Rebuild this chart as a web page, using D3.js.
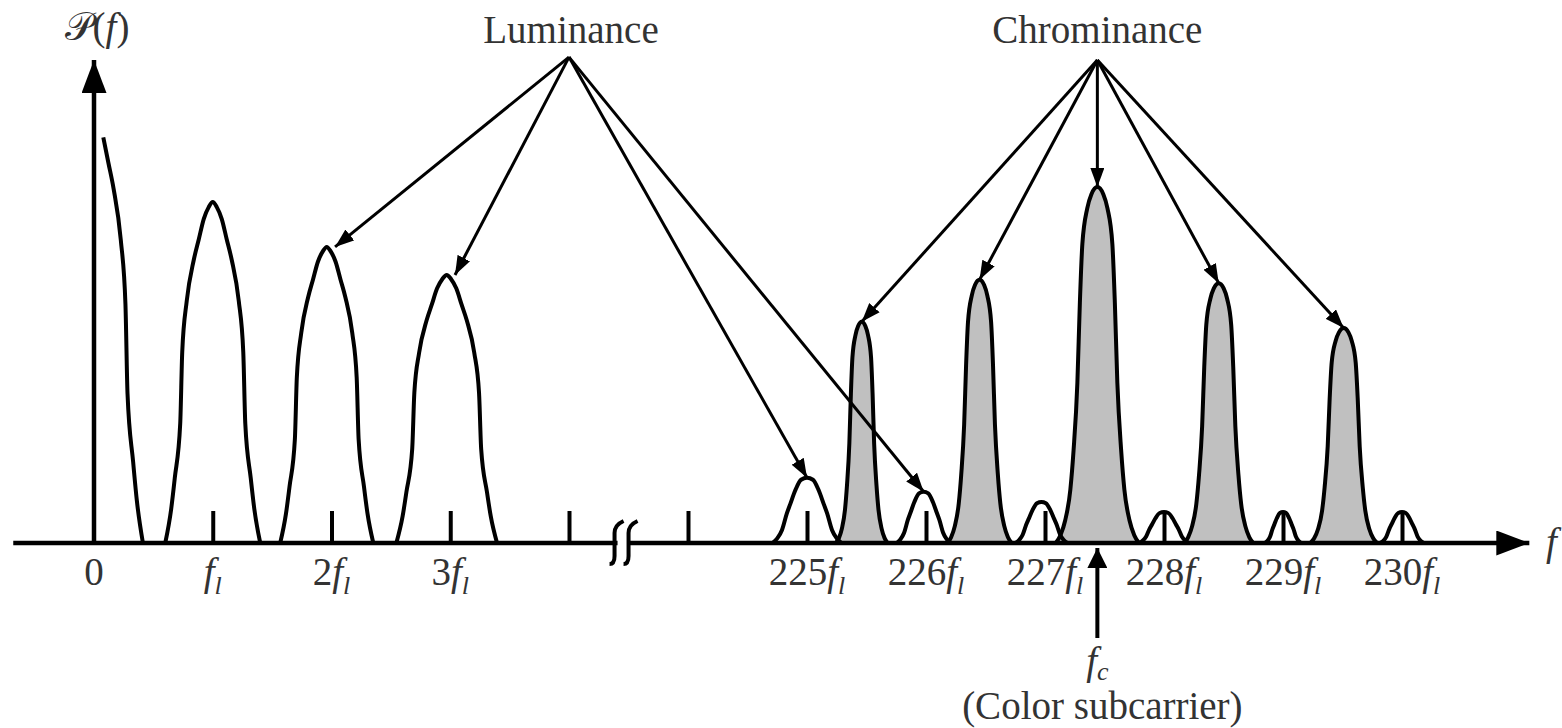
<!DOCTYPE html>
<html>
<head>
<meta charset="utf-8">
<script src="https://cdn.jsdelivr.net/npm/d3@7"></script>
<style>
  body { margin: 0; background: #fff; }
  svg { display: block; }
  text { font-family: "Liberation Serif", "Times New Roman", serif; fill: #333; font-size: 39px; }
</style>
</head>
<body>
<div class="chart"></div>
<script>
// DATA ------------------------------
// frequency in units of f_l, level in arbitrary units (0 - 100)

const lumaCenters = [0, 1, 1.96, 2.97, 225, 225.98, 226.97, 228, 229, 230];
const lumaHeights = [88.4, 70.6, 61.3, 55.5, 13.5, 10.6, 8.5, 6.4, 6.4, 6.4];
const lumaWidths  = [1.03, 1.0, 0.98, 1.06, 1.0, 0.78, 0.75, 0.72, 0.52, 0.63];

const chromaCenters = [225.46, 226.45, 227.44, 228.46, 229.51];
const chromaHeights = [45.8, 54.5, 73.7, 53.8, 44.5];
const chromaWidths  = [0.62, 0.77, 1.0, 0.83, 0.8];

// lobe outlines (right half): [offset in f_l, fraction of peak]
const bigLobeShape = [[0, 1], [0.034, 0.985], [0.076, 0.95], [0.118, 0.89], [0.16, 0.83],
    [0.219, 0.71], [0.257, 0.56], [0.274, 0.35], [0.32, 0.19], [0.35, 0.1], [0.4, 0]];
const smallLobeShape = [[0, 1], [0.05, 0.97], [0.1, 0.8], [0.14, 0.6], [0.17, 0.45],
    [0.21, 0.2], [0.25, 0.07], [0.29, 0]];
const chromaShape = [[0, 1], [0.05, 0.98], [0.085, 0.94], [0.126, 0.84], [0.147, 0.675],
    [0.168, 0.45], [0.2, 0.26], [0.227, 0.15], [0.27, 0.064], [0.31, 0.022], [0.35, 0]];

const tickValues  = [1, 2, 3, 4, 224, 225, 226, 227, 228, 229, 230];
const labelValues = [0, 1, 2, 3, 225, 226, 227, 228, 229, 230];
const tickLabels  = ["0", "f", "2f", "3f", "225f", "226f", "227f", "228f", "229f", "230f"]; // f gets subscript l

const lumaPointed = [2, 3, 4, 5];        // luminance lobes the labels point at
const lumaApex = [4, 100.6];             // [f, level]
const fc = 227.44;                       // color subcarrier
const chromaApex = [fc, 100];

// CHART INIT ------------------------------

const width = 1562, height = 728;

const svg = d3.select(".chart").append("svg")
    .attr("width", width)
    .attr("height", height);

// broken axis: 0..4 f_l, then 224..230 f_l
const x = d3.scaleLinear()
    .domain([0, 4, 224, 230])
    .range([94, 569, 688, 1402]);

const y = d3.scaleLinear()
    .domain([0, 100])
    .range([543, 60]);

const defs = svg.append("defs");
function marker(id, len, wid) {
    defs.append("marker")
        .attr("id", id)
        .attr("viewBox", `0 0 ${len} ${wid}`)
        .attr("refX", len).attr("refY", wid / 2)
        .attr("markerWidth", len).attr("markerHeight", wid)
        .attr("markerUnits", "userSpaceOnUse")
        .attr("orient", "auto")
        .append("path")
        .attr("d", `M0,0L${len},${wid / 2}L0,${wid}Z`)
        .attr("fill", "#000");
}
marker("head", 19, 14);
marker("axisHead", 33, 25);
marker("fcHead", 20, 20);

function lobe(c, h, w, shape) {
    const left = shape.slice(1).reverse().map(d => [c - d[0] * w, d[1] * h]);
    const right = shape.map(d => [c + d[0] * w, d[1] * h]);
    // the dc lobe only shows right of the vertical axis
    return left.concat(right).filter(d => d[0] >= 0.07);
}

const lumaLobes = lumaCenters.map((c, i) =>
    lobe(c, lumaHeights[i], lumaWidths[i], c < 100 ? bigLobeShape : smallLobeShape));
const chromaLobes = chromaCenters.map((c, i) =>
    lobe(c, chromaHeights[i], chromaWidths[i], chromaShape));

const line = d3.line()
    .x(d => x(d[0]))
    .y(d => y(d[1]))
    .curve(d3.curveMonotoneX);

const area = d3.area()
    .x(d => x(d[0]))
    .y0(y(0))
    .y1(d => y(d[1]))
    .curve(d3.curveMonotoneX);

// CHROMINANCE FILL ---------------------------
svg.selectAll(".chroma-fill")
    .data(chromaLobes)
    .enter().append("path")
    .attr("class", "chroma-fill")
    .attr("d", area)
    .attr("fill", "#c0c0c0");

// OUTLINES ---------------------------
svg.selectAll(".lobe")
    .data(lumaLobes.concat(chromaLobes))
    .enter().append("path")
    .attr("class", "lobe")
    .attr("d", line)
    .attr("fill", "none")
    .attr("stroke", "#000")
    .attr("stroke-width", 4)
    .attr("stroke-linejoin", "round");

// AXES ---------------------------
svg.append("line")
    .attr("x1", x(-0.68)).attr("y1", y(0))
    .attr("x2", x(231.07)).attr("y2", y(0))
    .attr("stroke", "#000").attr("stroke-width", 4.5)
    .attr("marker-end", "url(#axisHead)");

svg.append("line")
    .attr("x1", x(0)).attr("y1", y(0) + 2)
    .attr("x2", x(0)).attr("y2", y(100))
    .attr("stroke", "#000").attr("stroke-width", 4.5)
    .attr("marker-end", "url(#axisHead)");

var xAxis = svg.append("g")
    .attr("class", "axis x-axis")
    .attr("transform", "translate(0," + y(0) + ")")
    .call(d3.axisBottom(x).tickValues(tickValues).tickSize(-32).tickFormat(""));
xAxis.select(".domain").remove();
xAxis.selectAll(".tick line").attr("stroke", "#000").attr("stroke-width", 4);

// axis break
const bx = x(4) + 0.45 * (x(224) - x(4));
const y0 = y(0);
svg.append("rect")
    .attr("x", bx - 5).attr("y", y0 - 4)
    .attr("width", 10).attr("height", 8)
    .attr("fill", "#fff");
[bx - 8, bx + 6].forEach(sx => {
    svg.append("path")
        .attr("d", `M${sx - 5},${y0 + 21}Q${sx},${y0 + 21} ${sx},${y0 + 13}L${sx},${y0 - 10}Q${sx},${y0 - 18} ${sx + 9},${y0 - 22}`)
        .attr("fill", "none")
        .attr("stroke", "#000")
        .attr("stroke-width", 4);
});

// tick labels
svg.append("g").selectAll("text")
    .data(labelValues)
    .enter().append("text")
    .attr("x", d => x(d))
    .attr("y", y0 + 42)
    .attr("text-anchor", "middle")
    .each(function (d, i) {
        const t = d3.select(this), s = tickLabels[i];
        if (s.endsWith("f")) {
            t.append("tspan").text(s.slice(0, -1));
            t.append("tspan").attr("font-style", "italic").text("f");
            t.append("tspan").attr("font-style", "italic").attr("font-size", 26).attr("dy", 9).text("l");
        } else {
            t.text(s);
        }
    });

// axis titles
const yTitle = svg.append("text")
    .attr("x", x(0) + 3).attr("y", 40)
    .attr("text-anchor", "middle");
yTitle.append("tspan").text("\u{1D4AB}(");
yTitle.append("tspan").attr("font-style", "italic").text("f");
yTitle.append("tspan").text(")");

svg.append("text")
    .attr("x", x(231.07) + 22).attr("y", y0 + 12)
    .attr("text-anchor", "middle")
    .attr("font-style", "italic")
    .text("f");

// ANNOTATIONS ---------------------------
const lApex = [x(lumaApex[0]), y(lumaApex[1])];
const cApex = [x(chromaApex[0]), y(chromaApex[1])];

const targets = lumaPointed.map(i => {
    const off = lumaCenters[i] < 100 ? 0.07 : 0;
    return [lApex, [x(lumaCenters[i] + off), y(lumaHeights[i])]];
}).concat(chromaCenters.map((c, i) => [cApex, [x(c), y(chromaHeights[i])]]));

svg.selectAll(".pointer")
    .data(targets)
    .enter().append("line")
    .attr("class", "pointer")
    .attr("x1", d => d[0][0]).attr("y1", d => d[0][1])
    .attr("x2", d => d[1][0]).attr("y2", d => d[1][1])
    .attr("stroke", "#000")
    .attr("stroke-width", 3)
    .attr("marker-end", "url(#head)");

svg.append("text")
    .attr("x", lApex[0] + 2).attr("y", lApex[1] - 14)
    .attr("text-anchor", "middle")
    .text("Luminance");

svg.append("text")
    .attr("x", cApex[0]).attr("y", cApex[1] - 17)
    .attr("text-anchor", "middle")
    .text("Chrominance");

// color subcarrier marker from below
svg.append("line")
    .attr("x1", x(fc)).attr("y1", y0 + 95)
    .attr("x2", x(fc)).attr("y2", y0 + 5)
    .attr("stroke", "#000").attr("stroke-width", 4)
    .attr("marker-end", "url(#fcHead)");

const fcLabel = svg.append("text")
    .attr("x", x(fc)).attr("y", y0 + 131)
    .attr("text-anchor", "middle");
fcLabel.append("tspan").attr("font-style", "italic").text("f");
fcLabel.append("tspan").attr("font-style", "italic").attr("font-size", 26).attr("dy", 6).text("c");

svg.append("text")
    .attr("x", x(fc) + 5).attr("y", y0 + 176)
    .attr("text-anchor", "middle")
    .text("(Color subcarrier)");
</script>
</body>
</html>
